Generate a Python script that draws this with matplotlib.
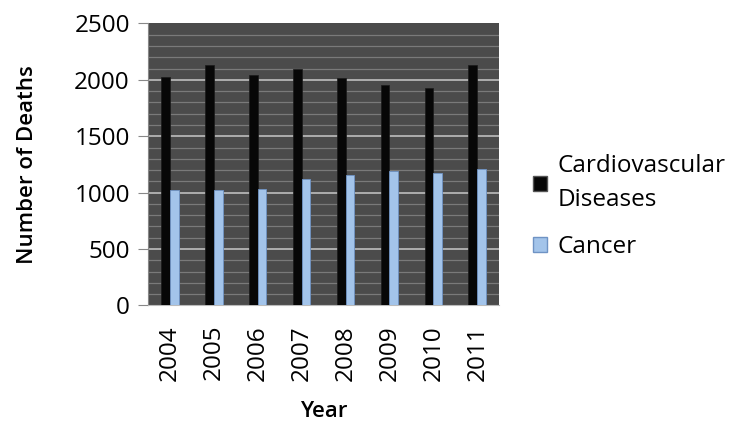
import numpy as np
import matplotlib.pyplot as plt
from matplotlib.patches import Patch

years = ['2004', '2005', '2006', '2007', '2008', '2009', '2010', '2011']
cardio = [2025, 2135, 2045, 2100, 2020, 1950, 1930, 2130]
cancer = [1020, 1020, 1030, 1120, 1155, 1190, 1170, 1210]

plt.rcParams['font.family'] = ['Open Sans', 'DejaVu Sans']

fig = plt.figure(figsize=(7.32, 4.26), dpi=100)
ax = fig.add_axes([0.202, 0.283, 0.480, 0.662])

x = np.arange(len(years))
w = 0.2
ax.set_facecolor('#4b4b4b')

# minor and major grid lines
for v in range(100, 2500, 100):
    ax.axhline(v, color='#7a7a7a' if v % 500 else '#b5b5b5', lw=0.9 if v % 500 else 1.3, zorder=1)

ax.bar(x - w / 2, cardio, width=w, color='#070707', edgecolor='#1a1a1a', lw=0.5, zorder=3)
ax.bar(x + w / 2, cancer, width=w, color='#a3c4ea', edgecolor='#6f93c4', lw=0.6, zorder=3)

ax.set_xlim(-0.5, len(years) - 0.5)
ax.set_ylim(0, 2500)
ax.set_yticks(range(0, 2501, 500))
ax.set_xticks(x)
ax.set_xticklabels(years, rotation=90, fontsize=17.5)
ax.tick_params(axis='y', labelsize=17.5, length=7, color='#888888', pad=6)
ax.tick_params(axis='x', length=0, pad=14)

for s in ['top', 'right']:
    ax.spines[s].set_visible(False)
ax.spines['left'].set_color('#888888')
ax.spines['bottom'].set_color('#bbbbbb')

ax.set_ylabel('Number of Deaths', fontsize=16, fontweight='semibold', labelpad=26)
ax.set_xlabel('Year', fontsize=16, fontweight='semibold', labelpad=15)

handles = [Patch(facecolor='#070707', edgecolor='#555555'),
           Patch(facecolor='#a3c4ea', edgecolor='#6f93c4')]
leg = fig.legend(handles, ['Cardiovascular\nDiseases', 'Cancer'], loc='center left',
                 bbox_to_anchor=(0.728, 0.515), frameon=False, fontsize=17.5,
                 handlelength=0.6, handleheight=0.6, handletextpad=0.4, labelspacing=0.95,
                 borderaxespad=0, borderpad=0)
for t in leg.get_texts():
    t.set_linespacing(1.55)

fig.savefig('out.png', dpi=100)
